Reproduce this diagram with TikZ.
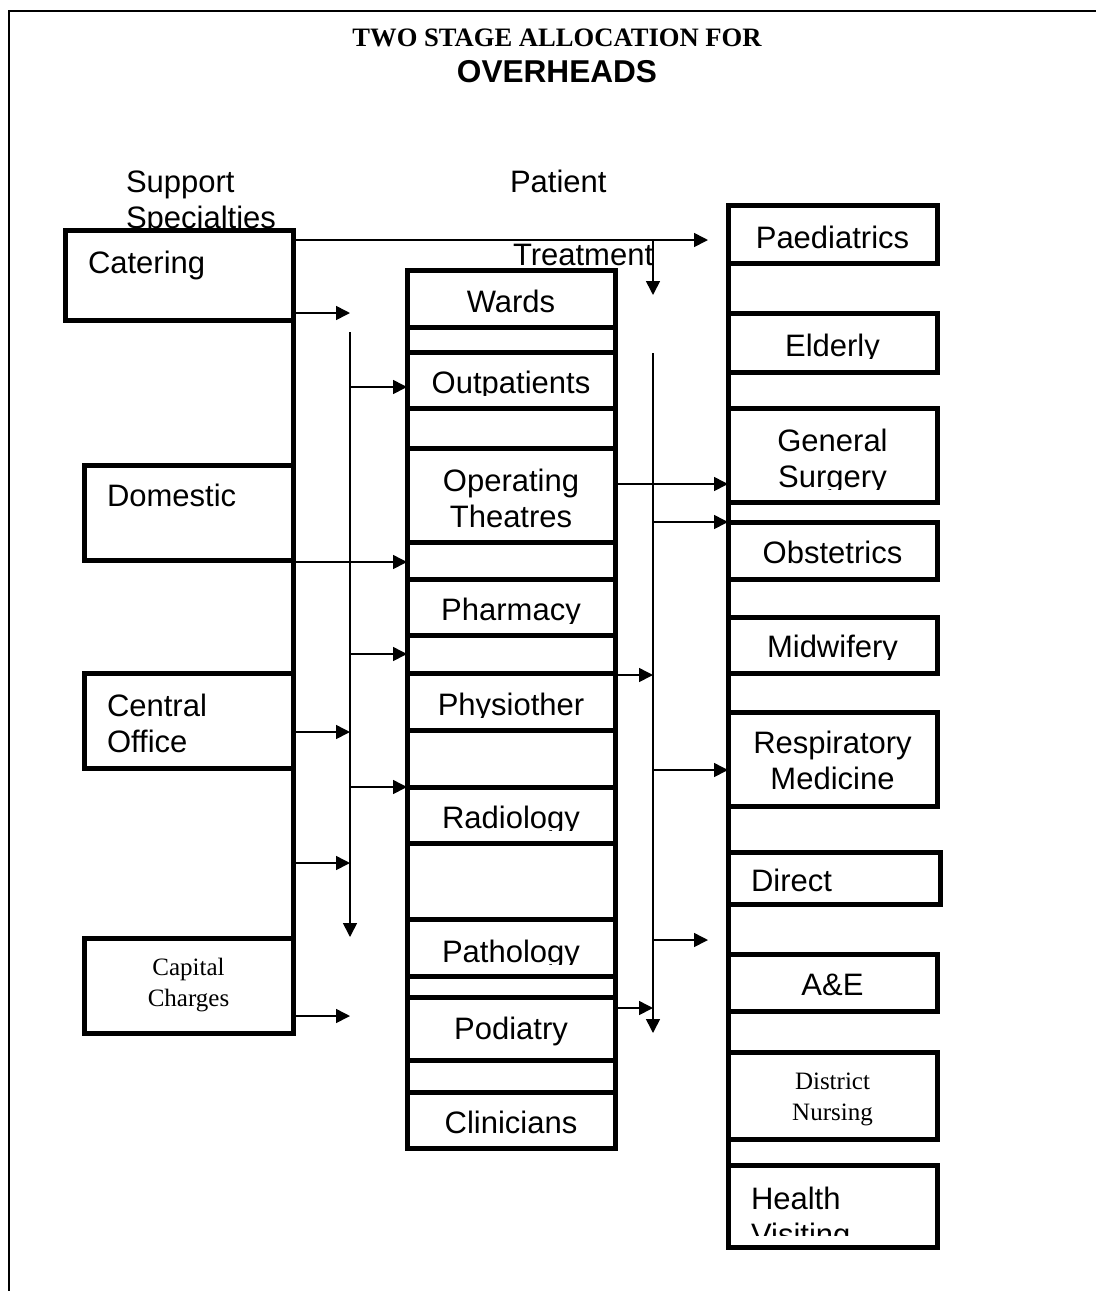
\documentclass[tikz,border=0pt]{standalone}
\usepackage{fontspec}
\setmainfont{Liberation Sans}
\newfontfamily\timesfont{Liberation Serif}
\usetikzlibrary{arrows.meta,positioning}

\begin{document}
\begin{tikzpicture}
  [x=0.5pt,y=-0.5pt,
   every node/.style={inner sep=0pt,outer sep=0pt},
   box/.style={draw,rectangle,line width=2.5pt,fill=white},
   spine/.style={line width=2.5pt},
   lbl/.style={font=\fontsize{15.5}{18}\selectfont,align=center},
   serif/.style={font=\timesfont\fontsize{12.5}{15.5}\selectfont,align=center},
   arr/.style={line width=0.8pt,-{Triangle[length=7pt,width=7pt]}}]

  \useasboundingbox (0,0) rectangle (1096,1291);
  \draw[line width=1pt] (9,1291) -- (9,11) -- (1096,11);

  % headings
  \node[font=\timesfont\bfseries\fontsize{13.3}{16}\selectfont,anchor=base] (title) at (557,46) {TWO STAGE ALLOCATION FOR};
  \node[font=\bfseries\fontsize{15.8}{18}\selectfont,anchor=base] (head) at (557,82) {OVERHEADS};
  \node[lbl,align=left,anchor=base west] (support) at (126,228) {Support\\Specialties};
  \node[lbl,anchor=base west] (patient) at (510,192) {Patient};
  \node[lbl,anchor=base west] (treat) at (513,265) {Treatment};

  % boxes: name/left/top/right/bottom
  \foreach \n/\l/\t/\r/\b in {
    cater/65/230/293/320, domes/84/465/293/560, centr/84/673/293/768, capit/84/938/293/1033,
    wards/407/270/615/327, outpa/407/352/615/408, opera/407/448/615/542, pharm/407/579/615/635,
    physi/407/673/615/730, radio/407/787/615/843, patho/407/919/615/976, podia/407/997/615/1060,
    clini/407/1092/615/1148,
    paedi/728/205/937/263, elder/728/313/937/372, gensu/728/408/937/502, obste/728/522/937/579,
    midwi/728/617/937/673, respi/728/712/937/806, direc/728/852/940/904, aande/728/954/937/1011,
    distr/728/1052/937/1139, healt/728/1165/937/1247}
    \node[box,minimum width={(\r-\l)*0.5pt},minimum height={(\b-\t)*0.5pt}] (\n) at ({(\l+\r)/2},{(\t+\b)/2}) {};

  \draw[spine] (cater.north east) -- (capit.south east);
  \draw[spine] (wards.north west) -- (clini.south west);
  \draw[spine] (wards.north east) -- (clini.south east);
  \draw[spine] (paedi.north west) -- (healt.south west);

  % centred labels: box/baseline/clip/style/text
  \foreach \n/\bl/\cy/\s/\t in {
    wards/312/327/lbl/Wards, outpa/393/395/lbl/Outpatients, opera/527/542/lbl/Operating\\Theatres,
    pharm/620/623/lbl/Pharmacy, physi/715/717/lbl/Physiother, radio/828/830/lbl/Radiology,
    patho/962/964/lbl/Pathology, podia/1039/1060/lbl/Podiatry, clini/1133/1148/lbl/Clinicians,
    paedi/248/263/lbl/Paediatrics, elder/356/358/lbl/Elderly, gensu/487/489/lbl/General\\Surgery,
    obste/563/579/lbl/Obstetrics, midwi/657/659/lbl/Midwifery, respi/789/806/lbl/Respiratory\\Medicine,
    aande/995/1011/lbl/A\&E, capit/1006/1033/serif/Capital\\Charges, distr/1120/1139/serif/District\\Nursing}
  {
    \begin{scope}
      \clip (\n.north west) rectangle (\n.east |- 0,\cy);
      \node[\s,anchor=base] (t\n) at (\n.center |- 0,\bl) {\t};
    \end{scope}
  }

  % left set labels
  \foreach \n/\bl/\cy/\t in {
    cater/273/320/Catering, domes/506/560/Domestic, centr/752/768/Central\\Office,
    direc/891/893/Direct, healt/1245/1235/Health\\Visiting}
  {
    \begin{scope}
      \clip (\n.north west) rectangle (\n.east |- 0,\cy);
      \node[lbl,align=left,anchor=base west,xshift=11.5pt] (t\n) at (\n.west |- 0,\bl) {\t};
    \end{scope}
  }

  % feed lines
  \coordinate (ltop) at (350,332);
  \coordinate (lend) at (350,937);
  \coordinate (rtop) at (653,240);
  \coordinate (rmid) at (653,295);
  \coordinate (rbeg) at (653,353);
  \coordinate (rend) at (653,1033);
  \coordinate (paedin) at (708,240);
  \coordinate (gapin) at (708,940);

  \draw[arr] (cater.east |- paedin) -- (paedin);
  \draw[arr] (rtop) -- (rmid);
  \draw[arr] (ltop) -- (lend);
  \draw[arr] (rbeg) -- (rend);
  \foreach \y in {313,732,863,1016}
    \draw[arr] (cater.east |- 0,\y) -- (ltop |- 0,\y);
  \foreach \y in {387,654,787}
    \draw[arr] (ltop |- 0,\y) -- (wards.west |- 0,\y);
  \draw[arr] (domes.east |- 0,562) -- (wards.west |- 0,562);
  \draw[arr] (opera.east |- 0,484) -- (gensu.west |- 0,484);
  \foreach \y in {675,1008}
    \draw[arr] (wards.east |- 0,\y) -- (rbeg |- 0,\y);
  \foreach \y in {522,770}
    \draw[arr] (rbeg |- 0,\y) -- (paedi.west |- 0,\y);
  \draw[arr] (rbeg |- gapin) -- (gapin);

\end{tikzpicture}
\end{document}
